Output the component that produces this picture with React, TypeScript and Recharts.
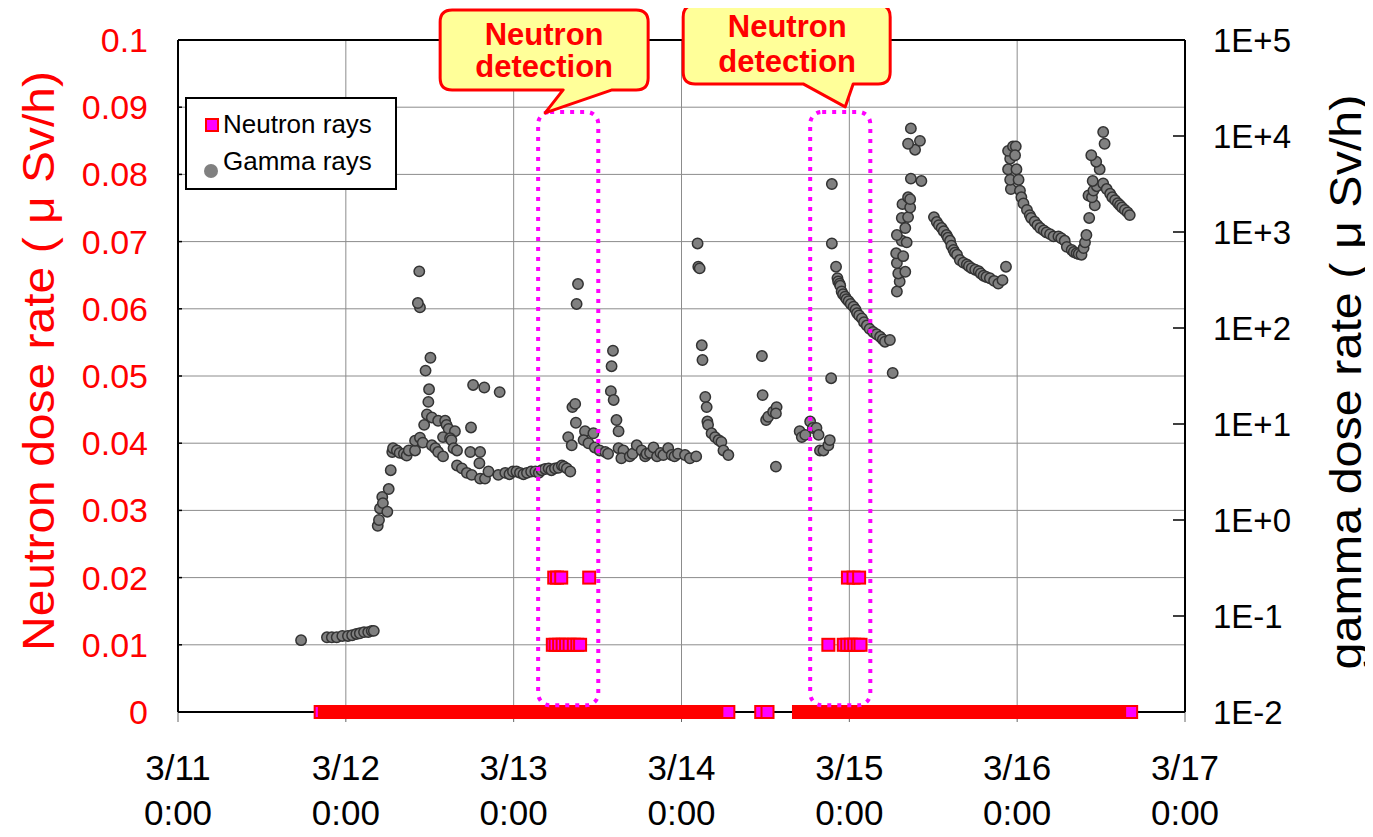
import React from 'react';
import { ScatterChart, Scatter, XAxis, YAxis, CartesianGrid, ReferenceArea, ReferenceLine, Legend } from 'recharts';

const FONT = '"Liberation Sans", Arial, Helvetica, sans-serif';
const RED = '#ff0000';
const MAGENTA = '#ff00ff';

// x is hours counted from 3/11 0:00
const dayTicks = [0, 24, 48, 72, 96, 120, 144];
const dayLabels = ['3/11', '3/12', '3/13', '3/14', '3/15', '3/16', '3/17'];
const neutronTicks = [0, 0.01, 0.02, 0.03, 0.04, 0.05, 0.06, 0.07, 0.08, 0.09, 0.1];
const neutronTickLabels = ['0', '0.01', '0.02', '0.03', '0.04', '0.05', '0.06', '0.07', '0.08', '0.09', '0.1'];
const gammaTicks = [0.01, 0.1, 1, 10, 100, 1000, 10000, 100000];
const gammaTickLabels = ['1E-2', '1E-1', '1E+0', '1E+1', '1E+2', '1E+3', '1E+4', '1E+5'];

// gamma readings: [hour, uSv/h]
const gamma311 = [
  [17.6, 0.056], [21.3, 0.06], [22.0, 0.06], [22.7, 0.06], [23.5, 0.062],
];
const gamma312 = [
  [24.3, 0.062], [24.9, 0.063], [25.5, 0.065], [26.0, 0.066], [26.6, 0.068], [27.2, 0.068], [27.7, 0.07], [28.0, 0.07],
  [28.56, 0.87], [28.74, 1.0], [28.89, 1.32], [29.21, 1.74], [29.3, 1.5], [29.93, 1.22], [30.13, 2.1], [30.42, 3.3],
  [30.64, 5.1], [30.75, 5.6], [31.3, 5.3], [31.7, 5.0], [32.3, 4.9], [32.7, 4.7], [33.0, 5.3], [33.9, 5.3],
  [33.9, 6.7], [34.6, 7.2], [35.0, 6.4], [35.2, 9.8], [35.6, 12.6], [35.8, 17], [35.9, 23], [35.4, 36], [36.1, 49],
  [34.6, 164], [34.3, 182], [34.5, 389],
  [36.3, 11.7], [37.2, 10.8], [38.2, 10.8], [38.4, 9.8], [38.7, 8.9], [39.6, 8.4], [37.9, 7.3], [38.9, 7.1], [39.1, 6.8],
  [36.3, 6.0], [36.8, 5.6], [37.2, 5.1], [37.9, 4.6], [39.4, 5.6], [39.9, 5.3],
  [39.9, 3.7], [40.6, 3.45], [41.3, 3.1], [42.0, 2.95], [43.2, 2.7], [43.9, 2.7], [44.4, 3.2], [43.1, 3.9],
  [41.8, 5.1], [43.2, 5.1], [41.9, 9.2], [42.2, 25.5], [43.8, 24], [46.0, 21.5],
  [45.8, 2.95], [46.8, 3.1], [47.4, 3.0], [47.9, 3.2],
];
const gamma313 = [
  [48.4, 3.2], [48.9, 3.1], [49.4, 3.0], [49.9, 3.1], [50.5, 3.2], [51.1, 3.2], [51.6, 3.1], [52.0, 3.3], [52.5, 3.4],
  [53.0, 3.45], [53.4, 3.3], [53.9, 3.45], [54.4, 3.5], [54.9, 3.7], [55.2, 3.6], [55.6, 3.45], [56.1, 3.2],
  [55.8, 7.3], [56.3, 6.0], [56.4, 15], [56.8, 16.2], [56.9, 10.3], [57.0, 178], [57.2, 287],
  [58.2, 8.4], [58.0, 6.8], [58.7, 6.3], [59.4, 8.0], [59.6, 5.7], [60.3, 5.3], [61.1, 5.1], [61.5, 4.9],
  [62.2, 58], [62.0, 40], [61.9, 22], [62.3, 17.8], [62.7, 11], [63.0, 8.4], [63.0, 5.6], [63.7, 5.3], [63.4, 4.4],
  [64.6, 4.6], [65.0, 4.9], [65.6, 6.0], [66.3, 5.3], [66.8, 4.6], [67.0, 4.9], [67.5, 5.0], [68.0, 5.7], [68.5, 4.6],
  [69.0, 5.0], [69.4, 4.75], [70.1, 5.6], [70.6, 4.75], [71.0, 4.6], [71.5, 4.9],
];
const gamma314 = [
  [72.5, 4.75], [73.2, 4.4], [74.1, 4.6], [74.3, 760], [74.4, 435], [74.6, 418], [74.9, 66], [75.0, 46.4],
  [75.4, 19.1], [75.6, 15], [75.7, 10.6], [75.8, 9.8], [76.3, 8.0], [76.8, 7.3], [77.3, 6.8], [77.7, 6.5],
  [78.0, 5.3], [78.7, 4.75],
  [83.5, 51], [83.6, 20], [84.1, 11], [84.4, 11.9], [85.1, 13.4], [85.6, 15], [85.5, 12.9], [85.5, 3.6],
  [88.9, 8.4], [89.2, 7.3], [89.7, 7.7], [90.4, 10.6], [90.8, 9.1], [91.3, 9.1], [91.6, 7.7], [91.8, 5.3],
  [92.3, 5.3], [93.0, 6.0], [93.2, 6.8], [93.4, 30], [93.5, 760], [93.5, 3160],
];
const gamma315 = [
  [94.1, 435], [94.3, 331], [94.4, 305], [94.6, 290], [94.7, 275], [94.9, 240], [95.1, 225], [95.4, 212],
  [95.6, 200], [95.9, 190], [96.2, 178], [96.6, 167], [96.9, 155], [97.1, 143], [97.4, 135], [97.8, 126],
  [98.1, 115], [98.5, 106], [98.9, 98], [99.4, 91], [99.9, 86], [100.4, 81], [100.8, 76], [101.1, 72],
  [101.8, 75], [102.2, 34],
  [102.8, 240], [103.2, 305], [103.0, 370], [102.8, 475], [102.7, 600], [103.7, 560], [104.0, 385], [103.5, 810],
  [102.8, 930], [104.2, 780], [104.0, 1100], [103.5, 1400], [104.4, 1430], [103.6, 1950], [104.7, 1800],
  [104.4, 2300], [104.7, 2200], [104.8, 3600], [106.3, 3400], [105.4, 7200], [104.4, 8300], [106.1, 8900],
  [104.8, 12000],
  [108.1, 1430], [108.5, 1270], [108.8, 1180], [109.2, 1100], [109.5, 1020], [109.9, 930], [110.1, 870],
  [110.4, 810], [110.6, 720], [110.9, 650], [111.1, 610], [111.4, 580], [111.8, 510], [112.3, 480], [112.8, 460],
  [113.1, 440], [113.5, 420], [114.0, 405], [114.5, 390], [114.8, 370], [115.2, 350], [115.6, 340], [116.1, 330],
  [116.7, 310], [117.3, 290], [117.9, 315], [118.4, 435],
];
const gamma316 = [
  [119.1, 2800], [119.0, 3500], [118.7, 4500], [119.0, 5800], [118.7, 7000], [119.4, 7800], [119.8, 7800],
  [119.7, 6300], [119.9, 4500], [120.2, 3500], [120.4, 2700], [120.6, 2300], [120.9, 1980], [121.4, 1700],
  [121.8, 1500], [122.0, 1400], [122.5, 1280], [122.9, 1180], [123.3, 1100], [123.8, 1040], [124.2, 990],
  [124.7, 950], [125.2, 900], [125.9, 900], [126.3, 860], [126.8, 810], [127.1, 700], [127.8, 650], [128.1, 620],
  [128.5, 600], [128.8, 590], [129.2, 580], [129.5, 680], [129.7, 780], [129.9, 930], [130.3, 1400], [131.1, 1900],
  [130.2, 2400], [130.7, 2300], [130.9, 2700], [131.4, 3000], [130.8, 3400], [131.8, 4500], [131.3, 5400],
  [130.6, 6300], [132.5, 8300], [132.3, 11000],
  [132.3, 3200], [132.8, 2800], [133.3, 2500], [133.6, 2300], [134.0, 2150], [134.4, 2000], [134.7, 1900],
  [135.0, 1800], [135.4, 1700], [135.8, 1600], [136.1, 1500],
];

// neutron readings: hours with 0, 0.01 and 0.02 uSv/h
const neutronZeroHours = [
  20.4, 21, 22, 23, 24, 25, 26, 27, 28, 29, 30, 31, 32, 33, 34, 35, 36, 37, 38, 39, 40, 41, 42, 43, 44, 45, 46, 47,
  48, 49, 50, 51, 52, 53, 54, 55, 56, 57, 58, 59, 60, 61, 62, 63, 64, 65, 66, 67, 68, 69, 70, 71, 72, 73, 74, 75,
  76, 77, 78, 78.7,
  83.4, 84.3,
  88.8, 89, 90, 91, 92, 93, 94, 95, 96, 97, 98, 99, 100, 101, 102, 103, 104, 105, 106, 107, 108, 109, 110, 111,
  112, 113, 114, 115, 116, 117, 118, 119, 120, 121, 122, 123, 124, 125, 126, 127, 128, 129, 130, 131, 132, 133,
  134, 135, 136, 136.3,
];
const neutronLowHours = [53.6, 54.0, 54.5, 55.0, 55.5, 56.0, 56.6, 57.1, 57.5, 93.0, 95.2, 95.7, 96.2, 96.7, 97.2, 97.6];
const neutronHighHours = [53.8, 54.2, 54.8, 58.8, 95.8, 96.6, 97.4];

// neutron detection windows (hours) and neutron-axis extent
const detections = [
  { x1: 51.5, x2: 60.1, y1: 0.001, y2: 0.0893 },
  { x1: 90.4, x2: 99.0, y1: 0.001, y2: 0.0893 },
];
// callout geometry relative to the top-left corner of each window
const callouts = [
  { left: -98, right: 110, top: -102, bottom: -22, baseL: 25, baseR: 74, tipX: 7, tipY: 1, textX: 6, line1: -67, line2: -35 },
  { left: -127, right: 80, top: -107, bottom: -28, baseL: -7, baseR: 43, tipX: 35, tipY: -5, textX: -23, line1: -75, line2: -40 },
];

const gammaData = [...gamma311, ...gamma312, ...gamma313, ...gamma314, ...gamma315, ...gamma316].map(([h, v]) => ({ h, v }));

// the dense zero readings merge into a red band; the ends of each run keep the magenta face
const neutronData = [
  ...neutronZeroHours.map((h, i) => {
    const prev = neutronZeroHours[i - 1];
    const next = neutronZeroHours[i + 1];
    const edge = prev === undefined || next === undefined || h - prev > 2 || next - h > 2;
    return { h, n: 0, edge };
  }),
  ...neutronLowHours.map((h) => ({ h, n: 0.01, edge: true })),
  ...neutronHighHours.map((h) => ({ h, n: 0.02, edge: true })),
];

const GammaDot = (p: any) => (
  <circle cx={p.cx} cy={p.cy} r={5.2} fill="#808080" stroke="#333333" strokeWidth={1.5} />
);

const NeutronSquare = (p: any) => {
  const edge = p.payload?.edge ?? true;
  return <rect x={p.cx - 6} y={p.cy - 6} width={12} height={12} fill={edge ? MAGENTA : RED} stroke={RED} strokeWidth={2} />;
};

const DayTick = (p: any) => {
  const i = dayTicks.indexOf(p.payload.value);
  return (
    <g fontFamily={FONT} fontSize={35} fill="#000">
      <text x={p.x} y={p.y + 58} textAnchor="middle">{dayLabels[i]}</text>
      <text x={p.x} y={p.y + 103} textAnchor="middle">0:00</text>
    </g>
  );
};

const LeftTick = (p: any) => {
  const i = neutronTicks.indexOf(p.payload.value);
  return (
    <g>
      <line x1={p.x} x2={p.x + 4} y1={p.y} y2={p.y} stroke="#000" strokeWidth={1.5} />
      <text x={p.x - 30} y={p.y + 12} textAnchor="end" fontFamily={FONT} fontSize={34} fill={RED}>{neutronTickLabels[i]}</text>
    </g>
  );
};

const RightTick = (p: any) => {
  const i = gammaTicks.indexOf(p.payload.value);
  return (
    <g>
      <line x1={p.x - 12} x2={p.x} y1={p.y} y2={p.y} stroke="#000" strokeWidth={1.5} />
      <text x={p.x + 28} y={p.y + 12} textAnchor="start" fontFamily={FONT} fontSize={33} fill="#000">{gammaTickLabels[i]}</text>
    </g>
  );
};

const LeftTitle = (p: any) => {
  const vb = p.viewBox || { x: 0, y: 40, width: 178, height: 672 };
  const cx = vb.x + 38;
  const cy = vb.y + vb.height / 2 - 15;
  return (
    <text x={cx} y={cy} transform={`rotate(-90, ${cx}, ${cy})`} textAnchor="middle" dominantBaseline="central"
      textLength={580} lengthAdjust="spacingAndGlyphs" fontFamily={FONT} fontSize={45} fill={RED}>
      Neutron dose rate ( μ Sv/h)
    </text>
  );
};

const RightTitle = (p: any) => {
  const vb = p.viewBox || { x: 1185, y: 40, width: 188, height: 672 };
  const cx = vb.x + 160;
  const cy = vb.y + vb.height / 2 + 6;
  return (
    <text x={cx} y={cy} transform={`rotate(-90, ${cx}, ${cy})`} textAnchor="middle" dominantBaseline="central"
      textLength={575} lengthAdjust="spacingAndGlyphs" fontFamily={FONT} fontSize={45} fill="#000">
      gamma dose rate ( μ Sv/h)
    </text>
  );
};

const DetectionBox = (p: any) => {
  const { x, y, width, height, c } = p;
  const r = 12;
  const x0 = x + c.left, x1 = x + c.right, y0 = y + c.top, y1 = y + c.bottom;
  const d = `M${x0 + r},${y0} H${x1 - r} Q${x1},${y0} ${x1},${y0 + r} V${y1 - r} Q${x1},${y1} ${x1 - r},${y1} ` +
    `H${x + c.baseR} L${x + c.tipX},${y + c.tipY} L${x + c.baseL},${y1} H${x0 + r} Q${x0},${y1} ${x0},${y1 - r} ` +
    `V${y0 + r} Q${x0},${y0} ${x0 + r},${y0} Z`;
  return (
    <g>
      <rect x={x} y={y} width={width} height={height} rx={12} fill="none" stroke={MAGENTA} strokeWidth={4} strokeDasharray="4 6" />
      <path d={d} fill="#ffff99" stroke={RED} strokeWidth={3} strokeLinejoin="round" />
      <text x={x + c.textX} y={y + c.line1} textAnchor="middle" fontFamily={FONT} fontWeight="bold" fontSize={31} fill={RED}>Neutron</text>
      <text x={x + c.textX} y={y + c.line2} textAnchor="middle" fontFamily={FONT} fontWeight="bold" fontSize={31} fill={RED}>detection</text>
    </g>
  );
};

const LegendBox = () => (
  <svg width={212} height={93} style={{ display: 'block' }}>
    <rect x={1} y={1} width={210} height={91} fill="#fff" stroke="#000" strokeWidth={2} />
    <rect x={21} y={22} width={12} height={12} fill={MAGENTA} stroke={RED} strokeWidth={2} />
    <text x={38} y={36} fontFamily={FONT} fontSize={26} fill="#000">Neutron rays</text>
    <circle cx={26} cy={74} r={7} fill="#808080" />
    <text x={38} y={73} fontFamily={FONT} fontSize={26} fill="#000">Gamma rays</text>
  </svg>
);

export default function App() {
  return (
    <div style={{ margin: -8, width: 1373, height: 837, background: '#fff', position: 'relative' }}>
      <ScatterChart width={1373} height={837} margin={{ top: 40, right: 0, bottom: 0, left: 0 }}>
        <CartesianGrid yAxisId="left" stroke="#8c8c8c" strokeWidth={1} />
        <XAxis dataKey="h" type="number" domain={[0, 144]} ticks={dayTicks} interval={0}
          height={125} axisLine={{ stroke: '#000', strokeWidth: 2 }} tickLine={{ stroke: '#666' }} tickSize={10}
          tickMargin={0} tick={<DayTick />} />
        <YAxis yAxisId="left" dataKey="n" type="number" domain={[0, 0.1]} ticks={neutronTicks} interval={0}
          width={178} axisLine={{ stroke: '#000', strokeWidth: 2 }} tickLine={false} tickSize={0}
          tickMargin={0} tick={<LeftTick />} label={LeftTitle} />
        <YAxis yAxisId="right" orientation="right" dataKey="v" type="number" scale="log" domain={[0.01, 100000]}
          ticks={gammaTicks} interval={0} width={188} axisLine={{ stroke: '#000', strokeWidth: 2 }}
          tickLine={false} tickSize={0} tickMargin={0} tick={<RightTick />} label={RightTitle} />
        <ReferenceLine yAxisId="left" y={0.1} stroke="#000" strokeWidth={2} />
        <Scatter name="Neutron rays" data={neutronData} yAxisId="left" shape={NeutronSquare} isAnimationActive={false} />
        <Scatter name="Gamma rays" data={gammaData} yAxisId="right" shape={GammaDot} isAnimationActive={false} />
        {detections.map((d, i) => (
          <ReferenceArea key={i} yAxisId="left" x1={d.x1} x2={d.x2} y1={d.y1} y2={d.y2} ifOverflow="visible"
            zIndex={3000} shape={(p: any) => <DetectionBox {...p} c={callouts[i]} />} />
        ))}
        <Legend layout="vertical" align="center" verticalAlign="middle" content={LegendBox}
          wrapperStyle={{ left: 185, top: 97, width: 212, height: 93 }} />
      </ScatterChart>
    </div>
  );
}
